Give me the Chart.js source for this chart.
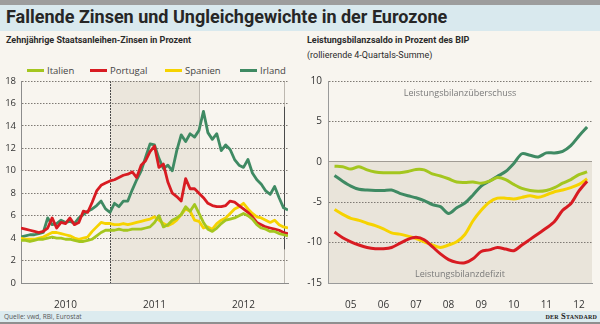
<!DOCTYPE html>
<html lang="de">
<head>
<meta charset="UTF-8">
<meta name="viewport" content="width=device-width, initial-scale=1.0">
<title>Fallende Zinsen und Ungleichgewichte in der Eurozone</title>
<script src="https://cdn.jsdelivr.net/npm/chart.js"></script>
<style>
  html, body { margin: 0; padding: 0; }
  body { width: 600px; height: 324px; position: relative; overflow: hidden; background: #f8f5ef; font-family: "Open Sans", sans-serif; color: #333; }
  #oben { position: absolute; left: 0; top: 0; width: 600px; height: 5px; background: #9d9d9d; }
  #kopf { position: absolute; left: 0; top: 5px; width: 600px; height: 26px; background: #d9e9ee; }
  #kopf h1 { margin: 0; position: absolute; left: 6px; top: 1px; font: 700 18px Roboto, sans-serif; color: #262626; white-space: nowrap; }
  .zeile { position: absolute; font: 700 9px Roboto, sans-serif; color: #2b2b2b; white-space: nowrap; }
  .zeile.normal { font-weight: 400; }
  .legende { position: absolute; top: 65px; height: 12px; line-height: 12px; font-size: 9.5px; color: #444; white-space: nowrap; }
  .legende i { display: inline-block; width: 17px; height: 3px; vertical-align: middle; margin-right: 3px; margin-top: -1px; }
  canvas { position: absolute; top: 60px; }
  #fuss { position: absolute; left: 0; top: 311px; width: 600px; height: 11px; background: #dcebef; }
  #quelle { position: absolute; left: 4px; top: 1px; font-size: 6.5px; line-height: 9px; color: #555; }
  #marke { position: absolute; right: 3px; top: 0; font: 700 8.5px "Liberation Serif", serif; font-variant: small-caps; line-height: 11px; color: #222; letter-spacing: 0.2px; }
  #unten { position: absolute; left: 0; top: 322px; width: 600px; height: 2px; background: #8f8f8f; }
</style>
</head>
<body>
  <div id="oben"></div>
  <div id="kopf"><h1>Fallende Zinsen und Ungleichgewichte in der Eurozone</h1></div>

  <div class="zeile" style="left:6px; top:35px">Zehnjährige Staatsanleihen-Zinsen in Prozent</div>
  <div class="zeile" style="left:307px; top:35px">Leistungsbilanzsaldo in Prozent des BIP</div>
  <div class="zeile normal" style="left:307px; top:50px">(rollierende 4-Quartals-Summe)</div>

  <div id="legende"></div>

  <canvas id="zinsen" width="295" height="250" style="left:0"></canvas>
  <canvas id="saldo" width="305" height="250" style="left:295px"></canvas>

  <div id="fuss">
    <span id="quelle">Quelle: vwd, RBI, Eurostat</span>
    <span id="marke">der Standard</span>
  </div>
  <div id="unten"></div>

<script>
  // Länder und Linienfarben
  const laender = ["Italien", "Portugal", "Spanien", "Irland"];
  const farben = ["#a4c61f", "#d81b22", "#f6d300", "#3f8a63"];

  // Zehnjährige Renditen, alle 1/20 Jahr ab Jan. 2010 (Prozent)
  const zinsenItalien = [
    3.8, 3.8, 3.7, 3.8, 3.9, 3.9, 4.0, 4.1, 4.0, 4.0,
    3.9, 3.9, 3.8, 3.7, 3.7, 3.8, 3.9, 4.2, 4.5, 4.7,
    4.7, 4.7, 4.8, 4.7, 4.7, 4.8, 4.8, 4.8, 4.9, 5.0,
    5.4, 6.0, 5.0, 5.2, 5.6, 5.8, 6.1, 6.8, 6.4, 7.0,
    6.2, 5.4, 4.8, 4.6, 4.9, 5.3, 5.6, 5.7, 5.8, 6.0,
    6.2, 6.0, 5.7, 5.2, 4.9, 4.8, 4.6, 4.6, 4.4, 4.3,
    4.2
  ];
  const zinsenPortugal = [
    4.9, 4.8, 4.7, 4.6, 4.5, 4.6, 4.9, 5.8, 4.9, 5.4,
    5.3, 5.8, 5.2, 5.4, 6.4, 6.3, 7.2, 8.2, 8.7, 8.9,
    9.1, 9.2, 9.4, 9.6, 9.7, 9.9, 9.4, 10.5, 10.9, 11.7,
    12.2, 10.3, 10.6, 9.0, 8.0, 7.7, 7.3, 9.3, 8.4, 8.4,
    8.0, 7.6, 7.1, 6.9, 6.8, 6.8, 6.9, 7.3, 7.2, 6.9,
    6.6, 6.3, 5.9, 5.4, 5.2, 5.0, 4.9, 4.8, 4.7, 4.5,
    4.4
  ];
  const zinsenSpanien = [
    4.0, 3.9, 3.9, 3.9, 4.0, 4.1, 4.3, 4.5, 4.5, 4.4,
    4.3, 4.2, 4.0, 3.9, 4.0, 4.1, 4.6, 5.0, 5.4, 5.3,
    5.3, 5.2, 5.2, 5.3, 5.2, 5.3, 5.4, 5.5, 5.6, 5.7,
    5.9, 5.6, 5.3, 5.1, 5.3, 5.6, 6.1, 6.6, 6.4, 5.6,
    5.5, 4.9, 5.0, 4.8, 5.3, 5.6, 5.8, 6.2, 6.6, 6.8,
    7.1, 6.6, 6.2, 5.9, 5.8, 5.6, 5.4, 5.6, 5.2, 5.0,
    4.9
  ];
  const zinsenIrland = [
    4.1, 4.2, 4.3, 4.3, 4.4, 4.5, 5.8, 5.2, 5.3, 5.6,
    5.4, 5.5, 5.3, 5.8, 6.1, 6.4, 6.6, 6.9, 7.3, 6.6,
    6.3, 7.1, 6.8, 7.3, 7.3, 8.3, 9.2, 10.0, 11.2, 12.4,
    12.3, 11.1, 10.2, 10.5, 10.0, 11.8, 13.2, 12.6, 13.3, 13.0,
    13.6, 15.3, 13.4, 12.8, 13.3, 11.8, 12.3, 11.9, 11.0, 10.5,
    10.3, 11.0, 9.8, 9.2, 8.8, 8.2, 7.9, 8.6, 7.6, 6.7,
    6.5
  ];
  const jahreZinsen = ["2010", "2011", "2012"];

  // Leistungsbilanzsaldo, quartalsweise ab Q1 2005 (Prozent des BIP)
  const saldoItalien = [
    -0.55, -0.6, -0.9, -0.6, -1.0, -1.25, -1.35, -1.35,
    -1.35, -1.2, -0.95, -1.0, -1.5, -1.75, -2.1, -2.5,
    -2.55, -2.5, -2.65, -2.4, -1.95, -2.2, -2.8, -3.3,
    -3.55, -3.65, -3.55, -3.2, -2.65, -2.2, -1.6, -1.25
  ];
  const saldoPortugal = [
    -8.7, -9.4, -9.9, -10.3, -10.6, -10.75, -10.75, -10.6,
    -10.1, -9.6, -9.35, -9.65, -10.5, -11.4, -12.1, -12.45,
    -12.5, -12.0, -11.1, -10.9, -10.6, -10.8, -11.0, -10.3,
    -9.6, -8.9, -8.2, -7.4, -6.0, -5.2, -3.6, -2.4
  ];
  const saldoSpanien = [
    -5.9, -6.5, -7.0, -7.25, -7.6, -7.9, -8.3, -8.8,
    -8.95, -9.2, -9.5, -9.9, -10.3, -10.6, -10.3, -9.9,
    -9.0, -7.3, -6.0, -5.0, -4.5, -4.5, -4.6, -4.4,
    -4.2, -4.4, -4.1, -3.7, -3.5, -3.2, -2.8, -2.1
  ];
  const saldoIrland = [
    -1.7, -2.4, -3.0, -3.4, -3.5, -3.55, -3.55, -3.5,
    -3.9, -4.2, -4.45, -4.8, -5.3, -5.55, -6.4, -5.7,
    -5.1, -4.1, -3.0, -2.4, -1.8, -1.2, -0.2, 1.0,
    0.8, 0.6, 1.1, 1.1, 1.3, 2.0, 3.2, 4.3
  ];
  const jahreSaldo = ["05", "06", "07", "08", "09", "10", "11", "12"];

  const zinsen = [zinsenItalien, zinsenPortugal, zinsenSpanien, zinsenIrland];
  const saldo = [saldoItalien, saldoPortugal, saldoSpanien, saldoIrland];

  Chart.defaults.font.family = "'Open Sans', sans-serif";
  Chart.defaults.color = "#333";

  // Legende über dem linken Diagramm
  const legendeLinks = [27, 90, 165, 240];
  document.getElementById("legende").innerHTML = laender
    .map((land, i) => `<div class="legende" style="left:${legendeLinks[i]}px"><i style="background:${farben[i]}"></i>${land}</div>`)
    .join("");

  // Jahr 2011 hinterlegen, Jahresgrenzen einzeichnen
  const jahresFelder = {
    id: "jahresFelder",
    beforeDraw(chart) {
      const { ctx, chartArea: a, scales: { x, y } } = chart;
      const x1 = x.getPixelForValue(1);
      const x2 = x.getPixelForValue(2);
      ctx.save();
      ctx.fillStyle = "#ebe6dc";
      ctx.fillRect(x1, a.top, x2 - x1, a.bottom - a.top);
      ctx.lineWidth = 1;
      ctx.strokeStyle = "#bdb8b0";
      ctx.beginPath();
      ctx.moveTo(Math.round(x2) + 0.5, a.top);
      ctx.lineTo(Math.round(x2) + 0.5, a.bottom);
      const xs = Math.round(x.getPixelForValue(2.955)) + 0.5;
      ctx.moveTo(xs, a.top);
      ctx.lineTo(xs, a.bottom);
      ctx.stroke();
      ctx.strokeStyle = "#4a4a4a";
      ctx.beginPath();
      ctx.moveTo(xs, y.getPixelForValue(15.7));
      ctx.lineTo(xs, y.getPixelForValue(3));
      ctx.stroke();
      ctx.setLineDash([2, 1]);
      ctx.beginPath();
      ctx.moveTo(Math.round(x1) + 0.5, a.top);
      ctx.lineTo(Math.round(x1) + 0.5, a.bottom);
      ctx.stroke();
      ctx.restore();
    }
  };

  // Defizitbereich unter null tönen und beschriften
  const saldoBereiche = {
    id: "saldoBereiche",
    beforeDraw(chart) {
      const { ctx, chartArea: a, scales: { y } } = chart;
      const y0 = y.getPixelForValue(0);
      ctx.save();
      ctx.fillStyle = "#e9e4da";
      ctx.fillRect(a.left, y0, a.right - a.left, a.bottom - y0);
      ctx.restore();
    },
    beforeDatasetsDraw(chart) {
      const { ctx, chartArea: a, scales: { y } } = chart;
      const mitte = (a.left + a.right) / 2;
      ctx.save();
      ctx.font = "9px 'Open Sans', sans-serif";
      ctx.fillStyle = "#7a7a7a";
      ctx.textAlign = "center";
      ctx.textBaseline = "middle";
      ctx.fillText("Leistungsbilanzüberschuss", mitte, y.getPixelForValue(8.5));
      ctx.fillText("Leistungsbilanzdefizit", mitte, y.getPixelForValue(-13.9));
      ctx.restore();
    }
  };

  const tickFont = { size: 10 };
  const punktiert = "#7f7a74";

  new Chart(document.getElementById("zinsen"), {
    type: "line",
    data: {
      datasets: laender.map((land, i) => ({
        label: land,
        data: zinsen[i].map((v, k) => ({ x: k / 20, y: v })),
        borderColor: farben[i],
        borderWidth: 2.8,
        borderJoinStyle: "round",
        pointRadius: 0,
        tension: 0
      }))
    },
    options: {
      responsive: false,
      animation: false,
      events: [],
      layout: { padding: { top: 21, right: 7 } },
      plugins: { legend: { display: false }, tooltip: { enabled: false } },
      scales: {
        x: {
          type: "linear",
          min: 0,
          max: 3,
          afterBuildTicks: (s) => { s.ticks = jahreZinsen.map((_, i) => ({ value: i + 0.5 })); },
          afterFit: (s) => { s.height = 27; },
          ticks: { callback: (v, i) => jahreZinsen[i], padding: 8, font: tickFont, maxRotation: 0 },
          grid: { display: false },
          border: { color: "#8c8c8c" }
        },
        y: {
          min: 0,
          max: 18,
          afterFit: (s) => { s.width = 21; },
          ticks: { stepSize: 2, padding: 5, font: { size: 9.5 } },
          grid: { color: (c) => (c.tick && c.tick.value === 0 ? "rgba(0,0,0,0)" : punktiert), drawTicks: false },
          border: { color: "#8c8c8c", dash: [1.5, 1.5] }
        }
      }
    },
    plugins: [jahresFelder]
  });

  new Chart(document.getElementById("saldo"), {
    type: "line",
    data: {
      datasets: laender.map((land, i) => ({
        label: land,
        data: saldo[i].map((v, k) => ({ x: 2005 + k / 4, y: v })),
        borderColor: farben[i],
        borderWidth: 3,
        borderJoinStyle: "round",
        pointRadius: 0,
        tension: 0.3
      }))
    },
    options: {
      responsive: false,
      animation: false,
      events: [],
      layout: { padding: { top: 21, right: 8 } },
      plugins: { legend: { display: false }, tooltip: { enabled: false } },
      scales: {
        x: {
          type: "linear",
          min: 2004.8,
          max: 2012.9,
          afterBuildTicks: (s) => { s.ticks = jahreSaldo.map((_, i) => ({ value: 2005.5 + i })); },
          afterFit: (s) => { s.height = 27; },
          ticks: { callback: (v, i) => jahreSaldo[i], padding: 8, font: tickFont, maxRotation: 0 },
          grid: { display: false },
          border: { color: "#9a9a9a" }
        },
        y: {
          min: -15,
          max: 10,
          afterFit: (s) => { s.width = 33; },
          ticks: { stepSize: 5, padding: 6, font: tickFont },
          grid: {
            color: (c) => {
              if (!c.tick || c.tick.value === -15) return "rgba(0,0,0,0)";
              return c.tick.value === 0 ? "#a09b94" : punktiert;
            },
            drawTicks: false
          },
          border: { color: "#9a9a9a", dash: (c) => (c.tick && c.tick.value === 0 ? [] : [1.5, 1.5]) }
        }
      }
    },
    plugins: [saldoBereiche]
  });
</script>
</body>
</html>
